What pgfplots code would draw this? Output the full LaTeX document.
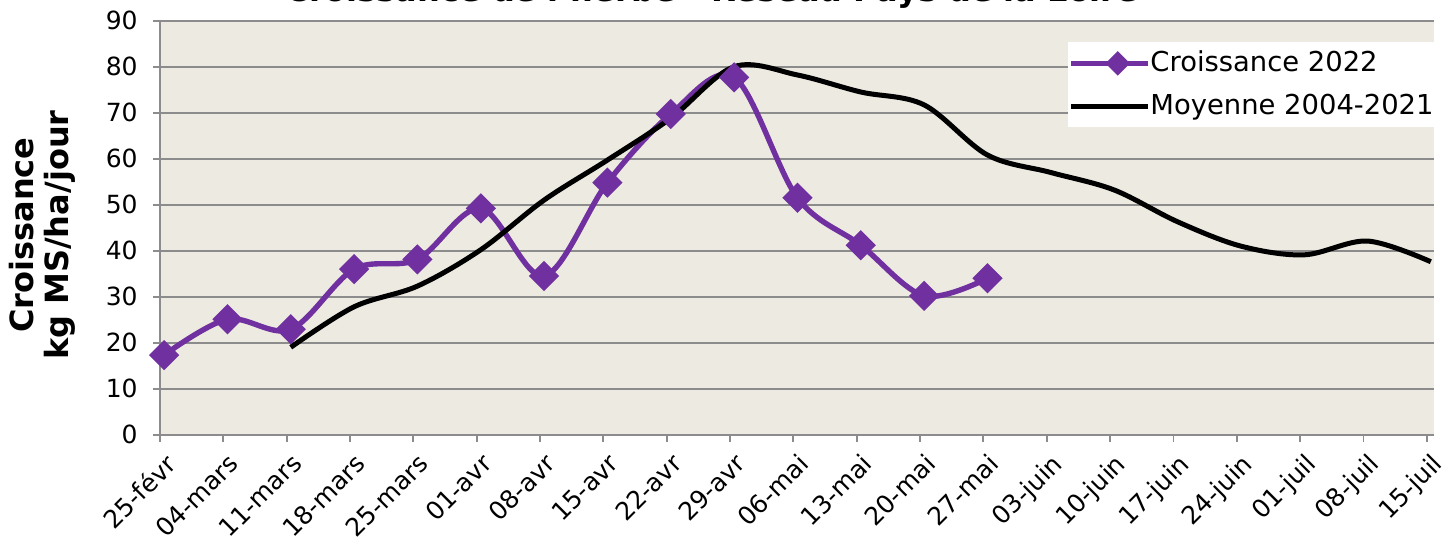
\documentclass[border=0pt]{standalone}
\usepackage{pgfplots}
\pgfplotsset{compat=1.18}
\usepackage{fontspec}
\setmainfont{DejaVu Sans}
\definecolor{purp}{HTML}{7030A0}
\definecolor{bgc}{HTML}{EDEBE1}
\definecolor{gridc}{HTML}{8C8C8C}
\begin{document}
\begin{tikzpicture}
\begin{axis}[
  scale only axis, width=637pt, height=207pt,
  at={(0,0)}, anchor=south west,
  xmin=0, xmax=140.8, ymin=0, ymax=90,
  axis background/.style={fill=bgc},
  axis x line*=bottom, axis y line*=left,
  axis line style={gridc, line width=0.9pt},
  ymajorgrids, grid style={gridc, line width=0.9pt},
  ytick={0,10,...,90},
  xtick={0,7,...,140},
  xticklabels={25-févr,04-mars,11-mars,18-mars,25-mars,01-avr,08-avr,15-avr,22-avr,29-avr,06-mai,13-mai,20-mai,27-mai,03-juin,10-juin,17-juin,24-juin,01-juil,08-juil,15-juil},
  tick align=outside, major tick length=3.5pt,
  tick style={gridc, line width=0.9pt},
  ticklabel style={font=\fontsize{12.5}{14}\selectfont},
  /pgf/number format/assume math mode=true,
  xticklabel style={rotate=45, anchor=north east, inner sep=1pt, xshift=-1.3pt, yshift=-3.9pt},
  yticklabel style={inner sep=0pt, xshift=-7.5pt},
  ylabel={Croissance\\kg MS/ha/jour},
  ylabel style={at={(axis description cs:-0.0926,0.482)}, anchor=center, rotate=0, align=center, font=\fontsize{16}{17.5}\selectfont\bfseries},
  legend style={at={(rel axis cs:1,0.9486)}, anchor=north east, draw=none, fill=white,
    font=\fontsize{13.7}{15}\selectfont, inner xsep=0pt, inner ysep=4.25pt, row sep=9pt,
    nodes={inner sep=0pt, text height=10.5pt, text depth=2pt}},
  legend cell align=left,
  legend image code/.code={\path (1pt,0pt) -- (39.5pt,0pt);\draw[mark repeat=2,mark phase=2,#1,mark size=3pt] plot coordinates {(10pt,0pt) (24.5pt,0pt) (39pt,0pt)};},
]
\addplot[color=purp, line width=2.7pt, smooth, tension=0.55, mark=square*, mark size=4pt, mark options={rotate=45, solid, fill=purp}] coordinates {
(0.45,17.3) (7.45,25.1) (14.45,22.9) (21.45,36.0) (28.45,38.1) (35.45,49.2) (42.45,34.5)
(49.45,54.8) (56.45,69.7) (63.45,77.7) (70.45,51.5) (77.45,41.2) (84.45,30.2) (91.45,34.0)
};
\addlegendentry{Croissance 2022}
\addplot[color=black, line width=2.5pt, smooth, tension=0.55] coordinates {
(14.45,19.0) (21.45,27.8) (28.45,32.3) (35.45,40.2) (42.45,51.0) (49.45,59.7) (56.45,68.8)
(63.45,80.0) (70.45,78.2) (77.45,74.5) (84.45,71.7) (91.45,60.8) (98.45,57.0) (105.45,53.2)
(112.45,46.3) (119.45,41.0) (126.45,39.1) (133.45,42.1) (140.45,37.6)
};
\addlegendentry{Moyenne 2004-2021\hspace{3.5pt}}
\end{axis}
\node[anchor=base, font=\fontsize{16}{18}\selectfont\bfseries] at (276pt,216.35pt) {Croissance de l'herbe - Réseau Pays de la Loire};
\pgfresetboundingbox
\path[use as bounding box] (-80pt,-55.15pt) rectangle (644pt,217.35pt);
\end{tikzpicture}
\end{document}
